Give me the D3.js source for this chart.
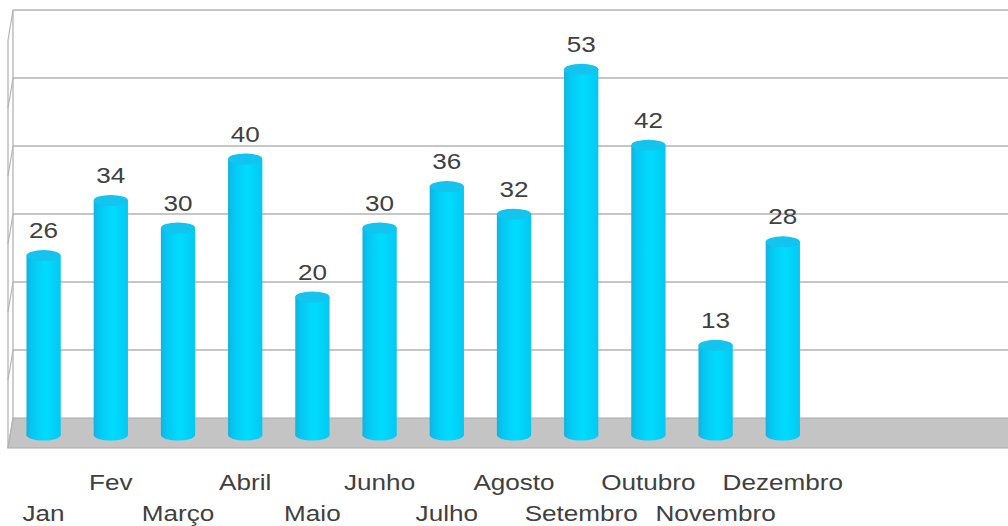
<!DOCTYPE html>
<html>
<head>
<meta charset="utf-8">
<script src="https://cdn.jsdelivr.net/npm/d3@7"></script>
<style>
  body { margin: 0; background: #fff; }
  svg { display: block; font-family: "Liberation Sans", Arial, sans-serif; }
</style>
</head>
<body>
<div id="chart"></div>
<script>
// Data
const months = ['Jan', 'Fev', 'Março', 'Abril', 'Maio', 'Junho', 'Julho', 'Agosto', 'Setembro', 'Outubro', 'Novembro', 'Dezembro'];
const values = [26, 34, 30, 40, 20, 30, 36, 32, 53, 42, 13, 28];
const gridTicks = [0, 10, 20, 30, 40, 50, 60];

const width = 1008;
const height = 526;

// back wall / floor geometry
const wallX = 13;
const depthX = -5;   // front edge offset
const depthY = 30;
const barDX = depthX / 2;

const svg = d3.select('#chart')
  .append('svg')
  .attr('width', width)
  .attr('height', height);

const x = d3.scaleBand()
  .domain(months)
  .range([12.5, 12.5 + 12 * 67.2])
  .paddingInner(0.49)
  .paddingOuter(0.245);

// back wall scale
const y = d3.scaleLinear()
  .domain([0, 60])
  .range([418, 10]);

// bars stand in the middle of the floor depth
const yBar = d3.scaleLinear()
  .domain([0, 60])
  .range([435, 435 - 60 * 6.9]);

const gridColor = '#b3b3b3';

// floor
svg.append('polygon')
  .attr('points', [
    [wallX, y(0)], [width + 5, y(0)],
    [width + 5, y(0) + depthY], [wallX + depthX, y(0) + depthY]
  ].map(p => p.join(',')).join(' '))
  .attr('fill', '#c4c4c4')
  .attr('stroke', '#aaaaaa')
  .attr('stroke-width', 1.2);

// back wall gridlines
svg.selectAll('.grid')
  .data(gridTicks.filter(d => d > 0))
  .enter()
  .append('line')
  .attr('x1', wallX)
  .attr('x2', width + 5)
  .attr('y1', d => y(d))
  .attr('y2', d => y(d))
  .attr('stroke', gridColor)
  .attr('stroke-width', 1.3);

// side wall
svg.append('line')
  .attr('x1', wallX).attr('x2', wallX)
  .attr('y1', y(60)).attr('y2', y(0))
  .attr('stroke', gridColor).attr('stroke-width', 1.3);

svg.append('line')
  .attr('x1', wallX + depthX).attr('x2', wallX + depthX)
  .attr('y1', y(60) + depthY).attr('y2', y(0) + depthY)
  .attr('stroke', gridColor).attr('stroke-width', 1.3);

svg.selectAll('.side-grid')
  .data(gridTicks)
  .enter()
  .append('line')
  .attr('x1', wallX)
  .attr('y1', d => y(d))
  .attr('x2', wallX + depthX)
  .attr('y2', d => y(d) + depthY)
  .attr('stroke', gridColor)
  .attr('stroke-width', 1.2);

// cylinder gradient
const defs = svg.append('defs');
const grad = defs.append('linearGradient')
  .attr('id', 'cyl')
  .attr('x1', '0%').attr('x2', '100%')
  .attr('y1', '0%').attr('y2', '0%');
grad.append('stop').attr('offset', '0%').attr('stop-color', '#12b2de');
grad.append('stop').attr('offset', '15%').attr('stop-color', '#06c6f2');
grad.append('stop').attr('offset', '55%').attr('stop-color', '#00dcff');
grad.append('stop').attr('offset', '100%').attr('stop-color', '#04c8f2');

const bw = x.bandwidth();
const ry = 5.5;

const bars = svg.selectAll('.bar')
  .data(months)
  .enter()
  .append('g')
  .attr('class', 'bar');

// bottom cap
bars.append('ellipse')
  .attr('cx', d => x(d) + bw / 2 + barDX)
  .attr('cy', yBar(0))
  .attr('rx', bw / 2)
  .attr('ry', ry)
  .attr('fill', 'url(#cyl)');

// body
bars.append('rect')
  .attr('x', d => x(d) + barDX)
  .attr('y', (d, i) => yBar(values[i]))
  .attr('width', bw)
  .attr('height', (d, i) => yBar(0) - yBar(values[i]))
  .attr('fill', 'url(#cyl)');

// top cap
bars.append('ellipse')
  .attr('cx', d => x(d) + bw / 2 + barDX)
  .attr('cy', (d, i) => yBar(values[i]))
  .attr('rx', bw / 2)
  .attr('ry', ry)
  .attr('fill', '#12c4ee');

// text in the reference is stretched horizontally
const stretch = 1.16;

// value labels
svg.selectAll('.value-label')
  .data(months)
  .enter()
  .append('text')
  .attr('class', 'value-label')
  .attr('transform', (d, i) =>
    `translate(${x(d) + bw / 2 + barDX},${yBar(values[i]) - ry - 12}) scale(${stretch},1)`)
  .attr('text-anchor', 'middle')
  .style('font-size', '22.5px')
  .style('fill', '#404040')
  .text((d, i) => values[i]);

// category labels, staggered in two rows
svg.selectAll('.cat-label')
  .data(months)
  .enter()
  .append('text')
  .attr('class', 'cat-label')
  .attr('transform', (d, i) =>
    `translate(${x(d) + bw / 2 + barDX},${i % 2 === 1 ? 490 : 521}) scale(${stretch},1)`)
  .attr('text-anchor', 'middle')
  .style('font-size', '22.5px')
  .style('fill', '#404040')
  .text(d => d);
</script>
</body>
</html>
